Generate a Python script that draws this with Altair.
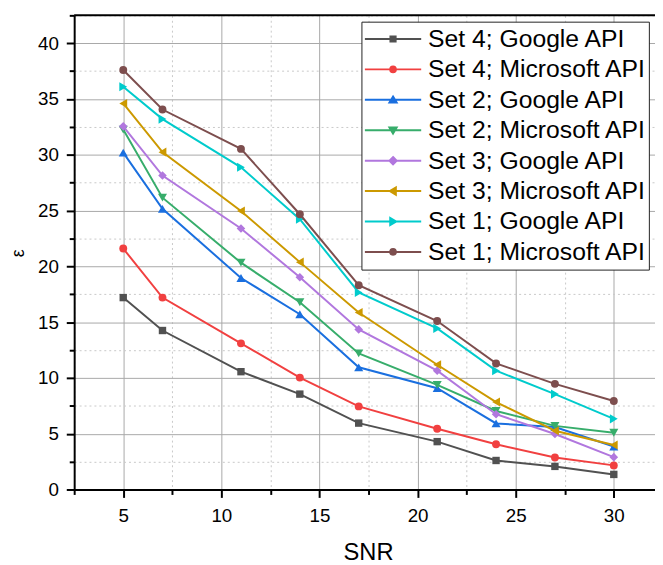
import altair as alt
import pandas as pd

# ---- data ----
snr = [5, 7, 11, 14, 17, 21, 24, 27, 30]

set4_google = [17.2, 14.25, 10.56, 8.55, 5.95, 4.29, 2.60, 2.07, 1.35]
set4_microsoft = [21.6, 17.2, 13.1, 10.03, 7.45, 5.44, 4.05, 2.87, 2.16]
set2_google = [30.2, 25.16, 18.96, 15.71, 10.95, 9.08, 5.92, 5.6, 3.85]
set2_microsoft = [32.26, 26.16, 20.33, 16.78, 12.2, 9.38, 7.04, 5.7, 5.09]
set3_google = [32.55, 28.14, 23.4, 19.02, 14.35, 10.65, 6.75, 4.97, 2.9]
set3_microsoft = [34.6, 30.24, 24.97, 20.38, 15.86, 11.18, 7.84, 5.27, 3.99]
set1_google = [36.1, 33.2, 28.88, 24.23, 17.66, 14.44, 10.65, 8.55, 6.33]
set1_microsoft = [37.6, 34.06, 30.53, 24.67, 18.31, 15.1, 11.3, 9.47, 7.93]

series_names = [
    "Set 4; Google API", "Set 4; Microsoft API",
    "Set 2; Google API", "Set 2; Microsoft API",
    "Set 3; Google API", "Set 3; Microsoft API",
    "Set 1; Google API", "Set 1; Microsoft API",
]
series_values = [set4_google, set4_microsoft, set2_google, set2_microsoft,
                 set3_google, set3_microsoft, set1_google, set1_microsoft]

colors = ["#515151", "#F14040", "#1A6FDF", "#37AD6B",
          "#B177DE", "#CC9900", "#00CBCC", "#7D4E4E"]
marker_shapes = ["square", "circle", "triangle-up", "triangle-down",
                 "diamond", "triangle-left", "triangle-right", "circle"]
marker_sizes = [56, 64, 84, 84, 76, 84, 84, 64]

x_major = [5, 10, 15, 20, 25, 30]
x_minor = [2.5, 7.5, 12.5, 17.5, 22.5, 27.5]
y_major = [0, 5, 10, 15, 20, 25, 30, 35, 40]
y_minor = [2.5, 7.5, 12.5, 17.5, 22.5, 27.5, 32.5, 37.5, 42.5]
y_top = [42.5]

# legend symbols: a line segment with the marker in its middle (unit = symbol half-width)
line_part = "M-1,0H1"
legend_markers = {
    "square": "M-0.092,-0.092H0.092V0.092H-0.092Z",
    "circle": "M-0.1,0A0.1,0.1,0,1,0,0.1,0A0.1,0.1,0,1,0,-0.1,0Z",
    "triangle-up": "M0,-0.115L0.128,0.1L-0.128,0.1Z",
    "triangle-down": "M0,0.115L0.128,-0.1L-0.128,-0.1Z",
    "diamond": "M0,-0.128L0.128,0L0,0.128L-0.128,0Z",
    "triangle-left": "M-0.115,0L0.1,-0.128L0.1,0.128Z",
    "triangle-right": "M0.115,0L-0.1,-0.128L-0.1,0.128Z",
}
legend_paths = [line_part + legend_markers[s] for s in marker_shapes]

rows = []
for name, vals in zip(series_names, series_values):
    for s, v in zip(snr, vals):
        rows.append({"series": name, "snr": s, "eps": v})
df = pd.DataFrame(rows)

FONT = "Liberation Sans"

xscale = alt.Scale(domain=[2.5, 32.1], nice=False, zero=False)
yscale = alt.Scale(domain=[0, 42.5], nice=False, zero=False)
cscale = alt.Scale(domain=series_names, range=colors)
shape_scale = alt.Scale(domain=series_names, range=legend_paths)

x_axis_major = alt.Axis(
    orient="bottom", values=x_major, tickSize=8, labelPadding=9,
    labelFontSize=19, grid=True, gridColor="#a8a8a8", gridWidth=1,
    title="SNR", titleFontSize=24, titleX=297.5, titleY=71,
    titleBaseline="alphabetic", titleAlign="center", format="d",
)
y_axis_major = alt.Axis(
    orient="left", values=y_major, tickSize=8, labelPadding=8,
    labelFontSize=19, grid=True, gridColor="#a8a8a8", gridWidth=1,
    title="ε", titleFontSize=18, titleX=-51.5, titleY=240.5,
    titleAngle=270, titleBaseline="alphabetic", titleAlign="center", format="d",
)
x_axis_minor = alt.Axis(
    orient="bottom", values=x_minor, tickSize=5, labels=False, domain=False,
    grid=True, gridColor="#c8c8c8", gridDash=[2, 3], gridWidth=1, title=None,
)
y_axis_minor = alt.Axis(
    orient="left", values=y_minor, tickSize=5, labels=False, domain=False,
    grid=True, gridColor="#c8c8c8", gridDash=[2, 3], gridWidth=1, title=None,
)

base = alt.Chart(df)

# invisible layer: carries the minor axes and the legend
legend_layer = base.mark_point(filled=True, opacity=0, size=3249).encode(
    x=alt.X("snr:Q", scale=xscale, axis=x_axis_minor),
    y=alt.Y("eps:Q", scale=yscale, axis=y_axis_minor),
    color=alt.Color("series:N", scale=cscale, legend=alt.Legend(title=None)),
    stroke=alt.Stroke("series:N", scale=cscale, legend=alt.Legend(title=None)),
    shape=alt.Shape("series:N", scale=shape_scale, legend=alt.Legend(title=None)),
)

series_layers = []
for i, (name, col, shp, sz) in enumerate(zip(series_names, colors, marker_shapes, marker_sizes)):
    series_layers.append(
        base.transform_filter(alt.datum.series == name)
        .mark_line(
            color=col, strokeWidth=2,
            point=alt.OverlayMarkDef(shape=shp, filled=True, size=sz, color=col,
                                     opacity=1),
        )
        .encode(
            x=alt.X("snr:Q", scale=xscale, axis=x_axis_major if i == 0 else None),
            y=alt.Y("eps:Q", scale=yscale, axis=y_axis_major if i == 0 else None),
        )
    )

top_border = alt.Chart(pd.DataFrame({"top": y_top})).mark_rule(
    color="black", strokeWidth=2
).encode(y=alt.Y("top:Q", scale=yscale, axis=None))

chart = (
    alt.layer(legend_layer, *series_layers, top_border)
    .resolve_axis(x="independent", y="independent")
    .properties(
        width=588, height=480,
        autosize=alt.AutoSizeParams(type="none"),
        padding={"left": 67, "top": 4, "right": 0, "bottom": 73},
        background="white",
    )
    .configure_view(stroke=None)
    .configure_axis(
        domainColor="black", domainWidth=2, tickColor="black", tickWidth=2,
        labelColor="black", titleColor="black", labelFont=FONT, titleFont=FONT,
        titleFontWeight="normal",
    )
    .configure_legend(
        orient="none", legendX=290.8, legendY=6.4, padding=2.5,
        fillColor="white", strokeColor="#222222", strokeWidth=1,
        labelFont=FONT, labelFontSize=25, labelColor="black", labelOffset=6,
        symbolSize=3249, symbolStrokeWidth=2, symbolOpacity=1,
        clipHeight=30, rowPadding=0.8, cornerRadius=0, labelLimit=400,
    )
)

chart.save("out.html", embed_options={"renderer": "svg", "actions": False})
